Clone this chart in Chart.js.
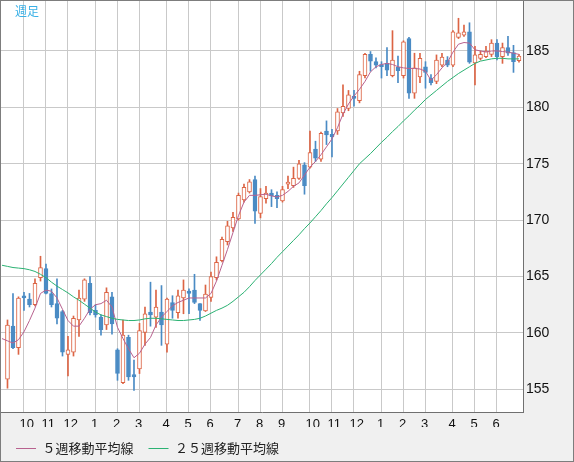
<!DOCTYPE html>
<html>
<head>
<meta charset="utf-8">
<script src="https://cdn.jsdelivr.net/npm/chart.js@4.4.1/dist/chart.umd.min.js"></script>
<style>
  html, body { margin: 0; padding: 0; background: #fff; }
  #frame { position: relative; width: 574px; height: 462px; box-sizing: border-box; border: 1px solid #7d7d7d; background: #f0f0f0; }
  #period { position: absolute; left: 14px; top: 1px; font: 12px "Noto Sans CJK JP", sans-serif; color: #3ab0e6; }
</style>
</head>
<body>
<div id="frame">
  <canvas id="chart" width="572" height="460"></canvas>
  <div id="period">週足</div>
</div>
<script>
  // weekly candles, oldest first
  const weekOpen = [155.9, 160.6, 158.7, 163.3, 163.0, 162.5, 164.9, 165.7, 163.5, 162.6,
    161.9, 158.1, 158.3, 161.15, 163.0, 164.4, 162.0, 161.4, 160.7, 163.2,
    158.5, 155.6, 159.6, 156.3, 156.8, 160.05, 161.85, 161.4, 161.85, 159.0,
    162.7, 161.8, 163.1, 163.7, 163.8, 162.6, 161.95, 163.15, 164.9, 166.4,
    168.1, 169.3, 170.1, 171.8, 172.5, 173.6, 170.6, 171.9, 172.4, 172.2,
    171.7, 173.2, 173.05, 173.7, 174.9, 174.7, 176.3, 175.4, 177.9, 177.6,
    177.9, 179.5, 179.9, 181.0, 180.6, 182.8, 184.7, 184.05, 183.8, 183.9,
    182.8, 183.55, 182.8, 186.1, 181.25, 182.7, 183.6, 182.6, 182.3, 183.75,
    184.2, 183.75, 186.2, 186.4, 186.7, 183.95, 184.35, 184.5, 184.7, 185.7,
    184.5, 185.3, 184.85, 184.15];
  const weekHigh = [161.15, 163.5, 163.2, 163.6, 163.5, 164.8, 166.8, 166.1, 163.9, 164.8,
    162.0, 159.7, 161.5, 163.8, 164.8, 165.0, 162.5, 161.6, 164.0, 163.6,
    158.6, 161.15, 159.8, 157.6, 160.85, 162.3, 164.5, 163.8, 164.2, 163.1,
    163.3, 163.8, 164.7, 163.9, 165.2, 162.6, 164.25, 165.4, 166.75, 168.5,
    169.9, 170.7, 172.4, 173.2, 173.6, 173.9, 172.8, 173.0, 172.7, 172.5,
    173.0, 173.9, 174.7, 175.3, 175.1, 177.9, 177.0, 177.8, 178.8, 178.05,
    179.9, 182.0, 181.5, 181.5, 183.2, 184.8, 184.95, 184.4, 184.05, 185.3,
    186.8, 184.55, 185.9, 186.2, 184.8, 184.8, 184.05, 182.9, 184.65, 184.8,
    184.5, 186.8, 187.9, 187.3, 187.5, 185.4, 185.0, 185.4, 186.0, 186.0,
    185.7, 186.3, 185.5, 184.7];
  const weekLow = [155.1, 158.6, 158.1, 162.0, 162.3, 162.4, 164.6, 163.45, 162.3, 160.8,
    157.95, 156.2, 157.95, 159.7, 162.8, 161.6, 161.4, 159.8, 160.3, 159.9,
    155.8, 155.5, 155.8, 154.9, 156.4, 158.9, 160.6, 160.5, 158.9, 158.3,
    161.3, 161.3, 161.7, 161.7, 162.6, 161.1, 161.9, 162.8, 164.7, 166.3,
    167.8, 169.0, 170.0, 171.6, 172.4, 169.7, 170.2, 171.5, 171.2, 171.1,
    171.6, 172.8, 172.9, 173.6, 172.3, 174.6, 175.2, 175.2, 176.7, 175.6,
    177.6, 179.2, 179.7, 180.1, 180.4, 182.6, 183.2, 183.5, 182.6, 182.8,
    182.7, 182.2, 182.6, 180.8, 180.8, 182.2, 181.7, 182.0, 182.1, 183.6,
    183.6, 183.6, 186.1, 186.3, 183.9, 182.0, 184.2, 184.4, 184.5, 184.2,
    183.9, 184.6, 183.1, 184.0];
  const weekClose = [160.7, 158.7, 163.1, 163.1, 162.5, 164.4, 165.8, 163.5, 162.5, 161.3,
    158.3, 158.5, 161.3, 163.1, 164.7, 161.8, 161.6, 160.3, 163.6, 160.8,
    156.4, 159.8, 156.1, 156.1, 160.2, 161.7, 161.6, 162.3, 160.7, 163.0,
    162.0, 163.3, 163.8, 163.5, 162.7, 162.0, 163.45, 165.0, 166.25, 168.3,
    169.5, 170.25, 172.2, 172.9, 173.4, 170.8, 172.1, 172.4, 172.15, 171.9,
    172.7, 173.3, 173.7, 175.0, 173.05, 176.0, 175.5, 177.7, 177.55, 177.4,
    179.6, 180.1, 181.1, 180.8, 182.9, 184.7, 184.1, 183.75, 183.6, 183.3,
    184.2, 183.25, 185.8, 181.25, 183.5, 184.35, 183.1, 182.2, 184.2, 184.45,
    183.75, 186.7, 186.6, 186.7, 184.0, 184.65, 184.7, 185.0, 185.7, 184.5,
    185.3, 184.8, 184.05, 184.55];

  // moving averages, starting one week before the first candle
  const ma5 = [159.5, 159.3, 159.1, 159.4, 160.1, 161.1, 162.2, 163.5, 163.8, 163.7,
    163.1, 162.1, 161.1, 160.6, 160.6, 161.3, 162.1, 162.5, 162.6, 162.9,
    162.3, 160.5, 159.5, 158.6, 157.8, 158.2, 159.0, 159.6, 160.7, 161.4,
    161.9, 162.4, 162.7, 162.9, 163.1, 163.1, 163.1, 163.1, 163.5, 164.6,
    166.0, 167.4, 168.9, 170.4, 171.6, 172.2, 172.2, 172.25, 172.3, 172.15,
    172.05, 172.2, 172.55, 173.0, 173.3, 174.0, 174.7, 175.2, 175.8, 176.5,
    177.2, 178.2, 179.4, 180.3, 181.0, 181.6, 182.3, 183.15, 183.6, 183.8,
    183.9, 183.8, 183.6, 183.5, 183.45, 183.45, 183.4, 183.2, 182.4, 182.9,
    183.5, 184.0, 184.9, 185.6, 185.75, 185.7, 185.1, 185.0, 184.9, 185.0,
    185.0, 184.95, 184.9, 184.8, 184.7];
  const ma25 = [166.0, 165.9, 165.8, 165.75, 165.7, 165.6, 165.45, 165.2, 164.9, 164.5,
    164.15, 163.85, 163.55, 163.2, 162.9, 162.55, 162.2, 161.85, 161.6, 161.45,
    161.3, 161.2, 161.15, 161.1, 161.1, 161.15, 161.25, 161.3, 161.3, 161.25,
    161.2, 161.15, 161.1, 161.1, 161.15, 161.2, 161.3, 161.5, 161.75, 162.0,
    162.2, 162.45, 162.8, 163.2, 163.6, 164.1, 164.65, 165.15, 165.65, 166.15,
    166.7, 167.2, 167.7, 168.2, 168.7, 169.25, 169.75, 170.3, 170.85, 171.45,
    172.0, 172.6, 173.2, 173.8, 174.4, 175.0, 175.45, 175.9, 176.4, 176.9,
    177.35, 177.85, 178.3, 178.8, 179.25, 179.75, 180.2, 180.7, 181.1, 181.5,
    181.9, 182.3, 182.65, 183.0, 183.3, 183.6, 183.9, 184.1, 184.2, 184.3,
    184.35, 184.35, 184.3, 184.3, 184.3];

  // first week of each month (candle index) and its label
  const monthTicks = [3, 7, 11, 16, 20, 24, 29, 33, 37, 42, 46, 50, 55, 59, 63, 68, 72, 76, 81, 85, 89];
  const monthLabels = ["10", "11", "12", "1", "2", "3", "4", "5", "6", "7", "8", "9",
    "10", "11", "12", "1", "2", "3", "4", "5", "6"];
  const priceTicks = [155, 160, 165, 170, 175, 180, 185];

  const upColor = "#dc6444";
  const downColor = "#4a8bc4";
  const isUp = weekOpen.map((o, i) => weekClose[i] >= o);
  const candleColor = isUp.map((up) => (up ? upColor : downColor));

  const plotBackground = {
    id: "plotBackground",
    beforeDraw(chart) {
      const a = chart.chartArea;
      chart.ctx.save();
      chart.ctx.fillStyle = "#ffffff";
      chart.ctx.fillRect(a.left, a.top, a.right - a.left, a.bottom - a.top);
      chart.ctx.restore();
    },
  };

  // no extra room for half labels at the ends of the axes
  function noEdgePadding(scale) {
    scale.paddingTop = 0;
    scale.paddingBottom = 0;
    scale.paddingLeft = 0;
    scale.paddingRight = 0;
  }

  const gridColor = "#c9c9c9";
  const frameColor = "#707070";

  let chart = new Chart(document.getElementById("chart"), {
    type: "line",
    data: {
      datasets: [
        {
          type: "bar",
          label: "wick",
          data: weekOpen.map((_, i) => ({ x: i, y: [weekLow[i], weekHigh[i]] })),
          backgroundColor: candleColor,
          borderWidth: 0,
          barThickness: 1,
          minBarLength: 1,
          grouped: false,
          order: 3,
        },
        {
          type: "bar",
          label: "body",
          data: weekOpen.map((o, i) => ({ x: i, y: [o, weekClose[i]] })),
          backgroundColor: isUp.map((up) => (up ? "#ffffff" : downColor)),
          borderColor: candleColor,
          borderWidth: 1,
          borderSkipped: false,
          barThickness: 4,
          minBarLength: 2,
          grouped: false,
          order: 2,
        },
        {
          label: "５週移動平均線",
          data: ma5.map((v, i) => ({ x: i - 1, y: v })),
          borderColor: "#b8628f",
          backgroundColor: "#b8628f",
          borderWidth: 1,
          pointRadius: 0,
          order: 1,
        },
        {
          label: "２５週移動平均線",
          data: ma25.map((v, i) => ({ x: i - 1, y: v })),
          borderColor: "#2bb273",
          backgroundColor: "#2bb273",
          borderWidth: 1,
          pointRadius: 0,
          order: 0,
        },
      ],
    },
    options: {
      responsive: false,
      animation: false,
      devicePixelRatio: 1,
      events: [],
      layout: { padding: 0 },
      plugins: {
        tooltip: { enabled: false },
        legend: {
          position: "bottom",
          align: "start",
          maxHeight: 34,
          labels: {
            boxWidth: 20,
            boxHeight: 1,
            padding: 15,
            color: "#222",
            font: { family: "'Noto Sans CJK JP'", size: 13 },
            generateLabels: (c) =>
              Chart.defaults.plugins.legend.labels.generateLabels(c)
                .filter((item) => item.datasetIndex >= 2)
                .sort((a, b) => a.datasetIndex - b.datasetIndex)
                .map((item) => Object.assign(item, { fillStyle: item.strokeStyle, lineWidth: 0 })),
          },
        },
      },
      scales: {
        x: {
          type: "linear",
          bounds: "data",
          min: -1.18,
          max: 93.73,
          offset: false,
          grid: { color: gridColor, drawTicks: false, offset: false },
          border: { display: true, color: frameColor },
          afterBuildTicks: (scale) => {
            scale.ticks = monthTicks.map((v) => ({ value: v }));
          },
          afterFit: (scale) => {
            scale.height = 15;
            noEdgePadding(scale);
          },
          ticks: {
            autoSkip: false,
            maxRotation: 0,
            align: "start",
            labelOffset: -4.5,
            padding: 5,
            color: "#111",
            font: { family: "'Liberation Sans'", size: 13 },
            callback: (value, index) => monthLabels[index],
          },
        },
        y: {
          type: "linear",
          position: "right",
          bounds: "data",
          min: 152.99,
          max: 189.43,
          beginAtZero: false,
          grid: { color: gridColor, drawTicks: false },
          border: { display: true, color: frameColor },
          afterBuildTicks: (scale) => {
            scale.ticks = priceTicks.map((v) => ({ value: v }));
          },
          afterFit: (scale) => {
            scale.width = 50;
            noEdgePadding(scale);
          },
          ticks: {
            padding: 3,
            color: "#111",
            font: { family: "'Liberation Sans'", size: 14 },
          },
        },
      },
    },
    plugins: [plotBackground],
  });
</script>
</body>
</html>
